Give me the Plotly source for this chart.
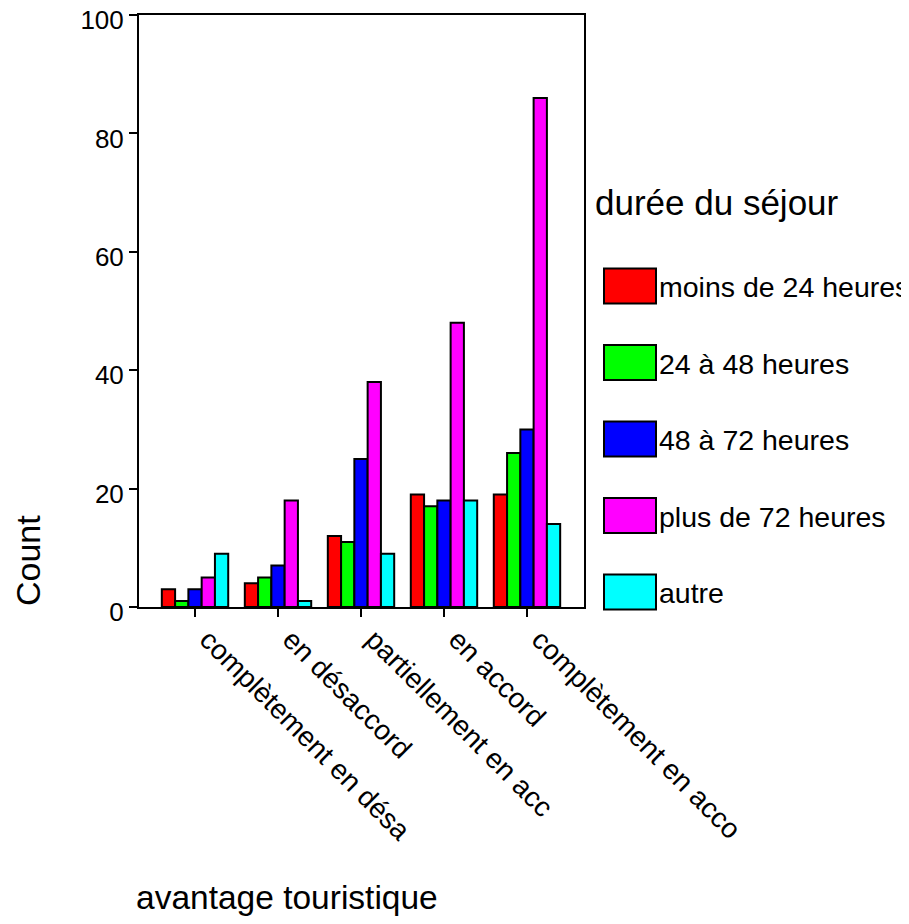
import plotly.graph_objects as go

# ---- data ----
categories = ["complètement en désa", "en désaccord", "partiellement en acc",
              "en accord", "complètement en acco"]
series_names = ["moins de 24 heures", "24 à 48 heures", "48 à 72 heures",
                "plus de 72 heures", "autre"]
moins_24 = [3, 4, 12, 19, 19]
h24_48 = [1, 5, 11, 17, 26]
h48_72 = [3, 7, 25, 18, 30]
plus_72 = [5, 18, 38, 48, 86]
autre = [9, 1, 9, 18, 14]
series_values = [moins_24, h24_48, h48_72, plus_72, autre]
y_ticks = [0, 20, 40, 60, 80, 100]

colors = ["#FF0000", "#00FF00", "#0000FF", "#FF00FF", "#00FFFF"]
FONT = "Liberation Sans, Arial, Helvetica, sans-serif"

OFF = 8  # page body margin
W, H = 909 - OFF, 924 - 2 * OFF
# plot area in page pixels
L, R, T, B = 139, 584, 15, 607


def px_x(x):
    return (x - L) / (R - L)


def px_y(y):
    return (B - y) / (B - T)


fig = go.Figure()
for name, vals, col in zip(series_names, series_values, colors):
    fig.add_trace(go.Bar(
        x=list(range(len(categories))), y=vals, name=name,
        marker=dict(color=col, line=dict(color="black", width=2)),
        showlegend=False,
    ))

fig.update_layout(
    width=W, height=H,
    margin=dict(l=L - OFF, r=(909 - R), t=T - OFF, b=(H + OFF - B), pad=0,
                autoexpand=False),
    paper_bgcolor="white", plot_bgcolor="white",
    barmode="group", bargap=0.2, bargroupgap=0,
    font=dict(family=FONT, color="black"),
)

fig.update_xaxes(
    range=[-0.675, 4.687], automargin=False,
    tickmode="array", tickvals=list(range(len(categories))), ticktext=categories,
    tickangle=45, tickfont=dict(size=28, family=FONT),
    ticklabelshift=13, ticklabelstandoff=-5, ticklabeloverflow="allow",
    ticks="outside", ticklen=8, tickwidth=2, tickcolor="black",
    showline=True, linecolor="black", linewidth=2, mirror=True,
    showgrid=False, zeroline=False,
)
fig.update_yaxes(
    range=[0, 100], tickmode="array", tickvals=y_ticks, automargin=False,
    tickfont=dict(size=26, family=FONT), ticklabeloverflow="allow",
    ticklabelshift=5,
    ticks="outside", ticklen=8, tickwidth=2, tickcolor="black",
    showline=True, linecolor="black", linewidth=2, mirror=True,
    showgrid=False, zeroline=False,
)

annotations = []
shapes = []

# axis titles
annotations.append(dict(
    text="avantage touristique", xref="paper", yref="paper",
    x=px_x(134), y=px_y(897), xanchor="left", yanchor="middle",
    showarrow=False, font=dict(size=33.5, family=FONT, color="black")))
annotations.append(dict(
    text="Count", xref="paper", yref="paper",
    x=px_x(28), y=px_y(561), xanchor="center", yanchor="middle",
    textangle=-90, showarrow=False,
    font=dict(size=34, family=FONT, color="black")))

# legend title
annotations.append(dict(
    text="durée du séjour", xref="paper", yref="paper",
    x=px_x(593), y=px_y(202), xanchor="left", yanchor="middle",
    showarrow=False, font=dict(size=35, family=FONT, color="black")))

# legend entries
first_center, step = 286, 76.5
for i, (name, col) in enumerate(zip(series_names, colors)):
    cy = first_center + i * step
    shapes.append(dict(
        type="rect", xref="paper", yref="paper",
        x0=px_x(604), x1=px_x(656), y0=px_y(cy - 17.5), y1=px_y(cy + 17.5),
        fillcolor=col, line=dict(color="black", width=2)))
    annotations.append(dict(
        text=name, xref="paper", yref="paper",
        x=px_x(657), y=px_y(cy + 1), xanchor="left", yanchor="middle",
        showarrow=False, font=dict(size=28.5, family=FONT, color="black")))

fig.update_layout(annotations=annotations, shapes=shapes)

fig.write_html("out.html")
